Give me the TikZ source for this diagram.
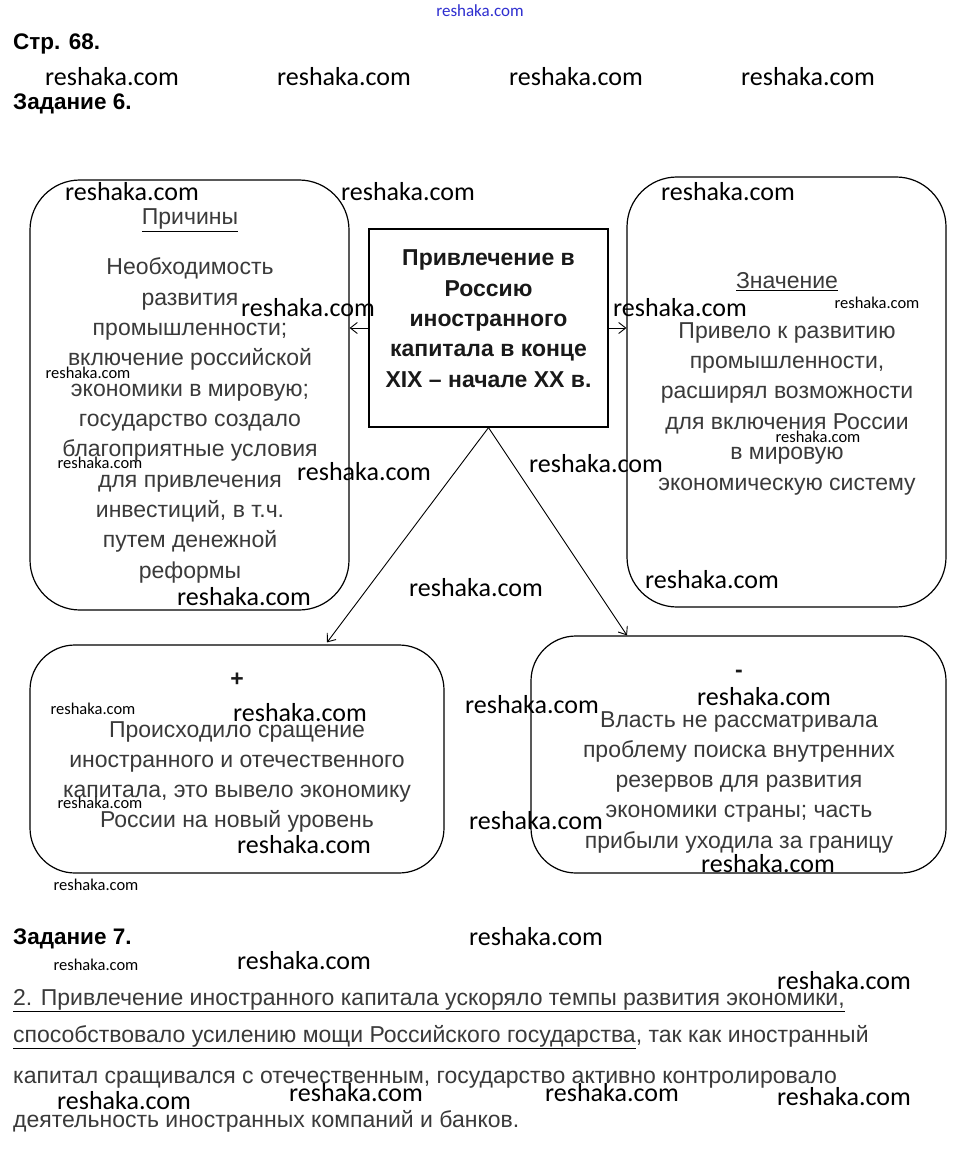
\documentclass[tikz,border=0pt]{standalone}
\usepackage{fontspec}
\setmainfont{Liberation Sans}
\newfontfamily\wmfont{Carlito}
\usetikzlibrary{arrows.meta}
\definecolor{txt}{HTML}{3A3A3A}
\definecolor{wmblue}{HTML}{2E2ED0}
\newcommand{\blkul}[1]{{\color{black}\underline{\color{txt}#1}}}
\tikzset{
  box/.style={draw=black, line width=1.2pt, rounded corners=50pt, inner sep=0pt},
  sbox/.style={draw=black, line width=1.2pt, inner sep=0pt},
  arr/.style={line width=0.9pt, -{Straight Barb[length=7pt,width=11pt]}},
  ln/.style={anchor=base, inner sep=0pt, text=txt, font=\fontsize{23}{27}\selectfont},
  bln/.style={anchor=base, inner sep=0pt, text=black!90, font=\fontsize{23}{27}\selectfont\bfseries},
  head/.style={anchor=base west, inner sep=0pt, font=\fontsize{22.5}{26}\selectfont\bfseries},
  para/.style={anchor=base west, inner sep=0pt, text=txt, font=\fontsize{23}{27}\selectfont},
  wm/.style={inner sep=0pt, font=\wmfont\fontsize{26}{30}\selectfont},
  wms/.style={inner sep=0pt, font=\wmfont\fontsize{16.5}{20}\selectfont},
}
\begin{document}
\begin{tikzpicture}[x=1pt,y=-1pt]
\useasboundingbox[fill=white] (0,0) rectangle (957,1155);
% boxes
\node[box, minimum width=319pt, minimum height=430pt] (l) at (189.5,395) {};
\node[sbox, minimum width=239pt, minimum height=198pt] (c) at (488.5,328) {};
\node[box, minimum width=319pt, minimum height=430pt] (r) at (786.5,392) {};
\node[box, rounded corners=45pt, minimum width=414pt, minimum height=228pt] (bl) at (237,759) {};
\node[box, rounded corners=45pt, minimum width=415pt, minimum height=237pt] (br) at (738.5,754.5) {};
% arrows
\draw[arr] (c.west) -- (c.west -| l.east);
\draw[arr] (c.east) -- (c.east -| r.west);
\draw[arr] (c.south) -- ([xshift=90pt,yshift=2pt]bl.north);
\draw[arr] (c.south) -- ([xshift=-111.5pt]br.north);
% headings
\node[wms, text=wmblue, font=\wmfont\fontsize{17}{20}\selectfont] (wtop) at (480,11) {reshaka.com};
\node[head] (h1) at (13,50) {Стр. 68.};
\node[head] (h2) at (13,110) {Задание 6.};
\node[head] (h3) at (13,944) {Задание 7.};
% left box text
\node[ln] (lt) at (190,225) {\blkul{Причины}};
\foreach \t [count=\i from 0] in {Необходимость, развития, промышленности;, включение российской, экономики в мировую;, государство создало, благоприятные условия, для привлечения, {инвестиций, в т.ч.}, путем денежной, реформы}
  \node[ln] (l\i) at (190,275+\i*30.3) {\t};
% center text
\foreach \t [count=\i from 0] in {Привлечение в, Россию, иностранного, капитала в конце, XIX – начале XX в.}
  \node[bln] (c\i) at (488.5,266+\i*30.25) {\t};
% right box text
\node[ln] (rt) at (787,289) {\blkul{Значение}};
\foreach \t [count=\i from 0] in {Привело к развитию, {промышленности,}, расширял возможности, для включения России, в мировую, экономическую систему}
  \node[ln] (r\i) at (787,338+\i*30.4) {\t};
% bottom-left
\node[bln] (plus) at (237,686) {+};
\foreach \t [count=\i from 0] in {Происходило сращение, иностранного и отечественного, {капитала, это вывело экономику}, России на новый уровень}
  \node[ln] (b\i) at (237,737+\i*30.3) {\t};
% bottom-right
\node[bln] (minus) at (739,677) {-};
\foreach \t [count=\i from 0] in {Власть не рассматривала, проблему поиска внутренних, резервов для развития, экономики страны; часть, прибыли уходила за границу}
  \node[ln] (d\i) at (739,727+\i*30.25) {\t};
% paragraph
\node[para] (p1) at (13,1005) {\blkul{2. Привлечение иностранного капитала ускоряло темпы развития экономики,}};
\node[para] (p2) at (13,1042) {\blkul{способствовало усилению мощи Российского государства}, так как иностранный};
\node[para] (p3) at (13,1083) {капитал сращивался с отечественным, государство активно контролировало};
\node[para] (p4) at (13,1127) {деятельность иностранных компаний и банков.};
% watermarks
\foreach \x/\y [count=\i] in {112/77, 344/77, 576/77, 808/77, 132/192, 408/192, 728/192, 308/308, 680/308, 364/472, 596/464, 244/597, 476/588, 712/580, 300/713, 532/705, 764/697, 304/845, 536/821, 768/864, 536/937, 304/961, 844/981, 124/1101, 356/1093, 612/1093, 844/1097}
  \node[wm] (w\i) at (\x,\y) {reshaka.com};
\foreach \x/\y [count=\i] in {877/303, 88/373, 100/463, 818/437, 93/709, 100/803, 96/885, 96/965}
  \node[wms] (v\i) at (\x,\y) {reshaka.com};
\end{tikzpicture}
\end{document}
